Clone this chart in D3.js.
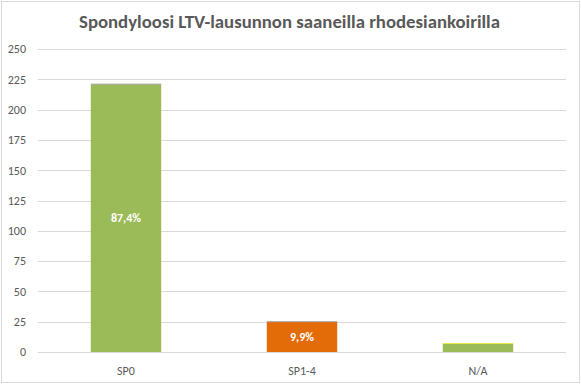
<!DOCTYPE html>
<html>
<head>
<meta charset="utf-8">
<script src="https://cdn.jsdelivr.net/npm/d3@7"></script>
<style>
  body { margin: 0; background: #fff; }
  svg text { font-family: Carlito, Calibri, "Liberation Sans", "Noto Sans", sans-serif; }
</style>
</head>
<body>
<div id="chart"></div>
<script>
// chart data
var categories = ["SP0", "SP1-4", "N/A"];
var values = [221, 25, 7];
var labels = ["87,4%", "9,9%", ""];
var barColors = ["#9BBB59", "#E36C09", "#9BBB59"];
var topColors = ["#A5A5A5", "#A5A5A5", "#E8E84A"];
var yTicks = [0, 25, 50, 75, 100, 125, 150, 175, 200, 225, 250];
var title = "Spondyloosi LTV-lausunnon saaneilla rhodesiankoirilla";

var width = 581, height = 384;
var margin = { top: 49, right: 15, bottom: 32, left: 38 };

var svg = d3.select("#chart").append("svg")
  .attr("width", width)
  .attr("height", height);

// outer border
svg.append("rect")
  .attr("x", 1.5).attr("y", 1.5)
  .attr("width", 578).attr("height", 381)
  .attr("fill", "#fff")
  .attr("stroke", "#D9D9D9");

var x = d3.scaleBand()
  .domain(categories)
  .range([margin.left, width - margin.right])
  .paddingInner(0.6)
  .paddingOuter(0.3);

var y = d3.scaleLinear()
  .domain([0, 250])
  .range([height - margin.bottom, margin.top]);

// gridlines
svg.append("g").selectAll("line")
  .data(yTicks)
  .enter().append("line")
  .attr("x1", margin.left)
  .attr("x2", width - margin.right)
  .attr("y1", function(d) { return Math.round(y(d)) + 0.5; })
  .attr("y2", function(d) { return Math.round(y(d)) + 0.5; })
  .attr("stroke", "#D9D9D9");

// y tick labels
var yAxis = d3.axisLeft(y).tickValues(yTicks).tickSize(0).tickPadding(12);
var gy = svg.append("g")
  .attr("transform", "translate(" + margin.left + ",0)")
  .call(yAxis);
gy.select(".domain").remove();
gy.selectAll("text")
  .attr("fill", "#595959")
  .style("font-size", "12px");

// bars
var bars = svg.append("g").selectAll("g")
  .data(categories)
  .enter().append("g");

bars.append("rect")
  .attr("x", function(d) { return x(d); })
  .attr("y", function(d, i) { return y(values[i]); })
  .attr("width", x.bandwidth())
  .attr("height", function(d, i) { return y(0) - y(values[i]); })
  .attr("fill", function(d, i) { return barColors[i]; });

bars.append("line")
  .attr("x1", function(d) { return x(d); })
  .attr("x2", function(d) { return x(d) + x.bandwidth(); })
  .attr("y1", function(d, i) { return y(values[i]); })
  .attr("y2", function(d, i) { return y(values[i]); })
  .attr("stroke", function(d, i) { return topColors[i]; })
  .attr("stroke-width", 1);

// data labels
bars.append("text")
  .attr("x", function(d) { return x(d) + x.bandwidth() / 2; })
  .attr("y", function(d, i) { return (y(values[i]) + y(0)) / 2; })
  .attr("dy", "0.35em")
  .attr("text-anchor", "middle")
  .attr("fill", "#fff")
  .style("font-size", "12px")
  .style("font-weight", "bold")
  .text(function(d, i) { return labels[i]; });

// x axis labels
var xAxis = d3.axisBottom(x).tickSize(0).tickPadding(14);
var gx = svg.append("g")
  .attr("transform", "translate(0," + y(0) + ")")
  .call(xAxis);
gx.select(".domain").remove();
gx.selectAll("text")
  .attr("fill", "#595959")
  .style("font-size", "12px");

// title
svg.append("text")
  .attr("x", 79)
  .attr("y", 28)
  .attr("textLength", 421)
  .attr("lengthAdjust", "spacingAndGlyphs")
  .attr("fill", "#595959")
  .style("font-size", "18px")
  .style("font-weight", "bold")
  .text(title);
</script>
</body>
</html>
